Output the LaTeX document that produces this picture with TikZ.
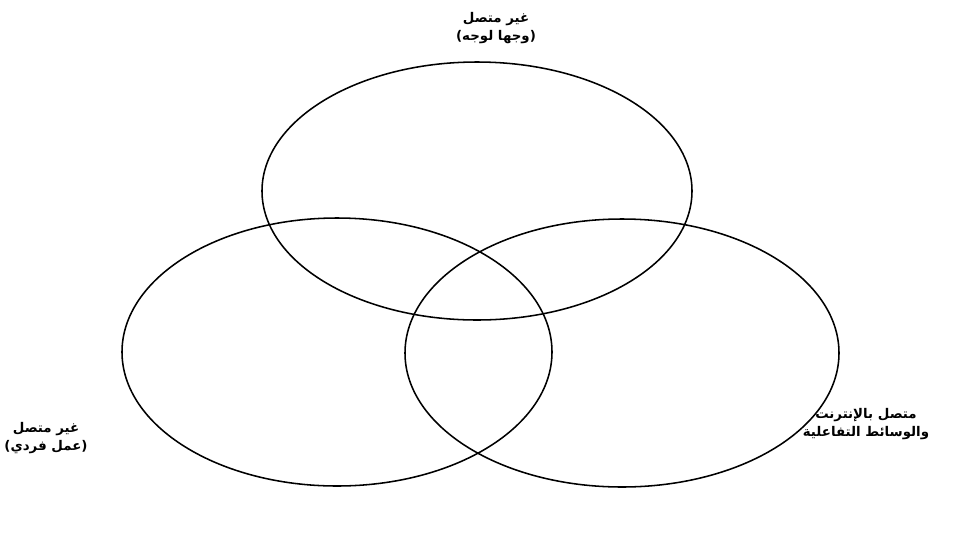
\documentclass[tikz,border=0pt]{standalone}
\usepackage{fontspec}
\newfontfamily\arabicfont[Script=Arabic]{DejaVu Sans}
\TeXXeTstate=1

\begin{document}
\begin{tikzpicture}[x=0.025cm, y=-0.025cm,
		label/.style={font=\arabicfont\bfseries\fontsize{9.5}{13}\selectfont, align=center}]
		\useasboundingbox (0, 0) rectangle (962, 541);
		
		% three circles of the diagram
		\draw[line width=1.1pt] (477, 191) ellipse [x radius=215, y radius=129]; % top
		\draw[line width=1.1pt] (337, 352) ellipse [x radius=215, y radius=134]; % left
		\draw[line width=1.1pt] (622, 353) ellipse [x radius=217, y radius=134]; % right
		
		% labels
		\node[label] (top) at (496, 28) {\beginR غير متصل\endR\\\beginR (وجها لوجه)\endR};
		\node[label] (left) at (46, 438) {\beginR غير متصل\endR\\\beginR (عمل فردي)\endR};
		\node[label] (right) at (866, 424) {\beginR متصل بالإنترنت\endR\\\beginR والوسائط التفاعلية\endR};
	\end{tikzpicture}
\end{document}
